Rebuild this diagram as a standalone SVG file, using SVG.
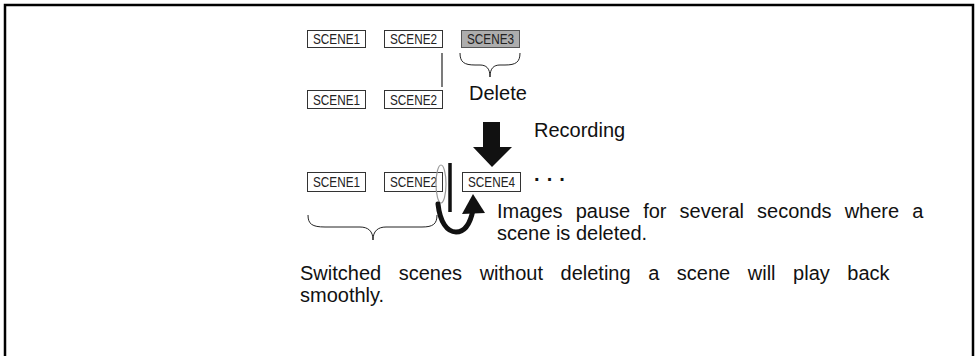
<svg xmlns="http://www.w3.org/2000/svg" width="977" height="356" viewBox="0 0 977 356">
<defs>
<style>
.box{fill:#fff;stroke:#333;stroke-width:1}
.gray{fill:#adadad;stroke:#555;stroke-width:1}
.bt{font-family:"Liberation Sans",Arial,sans-serif;font-size:14px;fill:#222;text-anchor:middle}
.t{font-family:"Liberation Sans",Arial,sans-serif;font-size:20px;fill:#111}
.br{fill:none;stroke:#222;stroke-width:1}
</style>
</defs>
<rect width="977" height="356" fill="#fff"/>
<path d="M5,356 V5 H973 V356" fill="none" stroke="#000" stroke-width="2.5"/>
<g id="r1s1"><rect class="box" x="307.5" y="30.5" width="58" height="17"/><text class="bt" x="336.5" y="44" textLength="47" lengthAdjust="spacingAndGlyphs">SCENE1</text></g>
<g id="r1s2"><rect class="box" x="384.5" y="30.5" width="58" height="17"/><text class="bt" x="413.5" y="44" textLength="47" lengthAdjust="spacingAndGlyphs">SCENE2</text></g>
<g id="r1s3"><rect class="gray" x="461.5" y="30.5" width="58" height="17"/><text class="bt" x="490.5" y="44" textLength="47" lengthAdjust="spacingAndGlyphs">SCENE3</text></g>
<g id="r2s1"><rect class="box" x="307.5" y="90.5" width="58" height="18"/><text class="bt" x="336.5" y="104.5" textLength="47" lengthAdjust="spacingAndGlyphs">SCENE1</text></g>
<g id="r2s2"><rect class="box" x="384.5" y="90.5" width="58" height="18"/><text class="bt" x="413.5" y="104.5" textLength="47" lengthAdjust="spacingAndGlyphs">SCENE2</text></g>
<g id="r3s1"><rect class="box" x="307.5" y="172.5" width="58" height="19"/><text class="bt" x="336.5" y="187" textLength="47" lengthAdjust="spacingAndGlyphs">SCENE1</text></g>
<g id="r3s2"><rect class="box" x="384.5" y="172.5" width="58" height="19"/><text class="bt" x="413.5" y="187" textLength="47" lengthAdjust="spacingAndGlyphs">SCENE2</text></g>
<g id="r3s4"><rect class="box" x="462.5" y="172.5" width="58" height="19"/><text class="bt" x="491.5" y="187" textLength="47" lengthAdjust="spacingAndGlyphs">SCENE4</text></g>
<g id="dots"><text class="t" x="534" y="186" font-weight="bold" letter-spacing="6">···</text></g>
<g id="connectors">
<line x1="442" y1="53" x2="442" y2="87" stroke="#222" stroke-width="1.2"/>
<path class="br" d="M460,53 C460,62 464,65 475,65 L480,65 C486,65 490,68 490,77 C490,68 494,65 500,65 L505,65 C516,65 520,62 520,53"/>
<polygon points="483,122 500,122 500,147 512,147 492,167 473,147 483,147" fill="#111"/>
<line x1="450" y1="163" x2="450" y2="212" stroke="#111" stroke-width="3.5"/>
<ellipse cx="441" cy="184" rx="5" ry="19" fill="none" stroke="#999" stroke-width="1.2"/>
<path d="M438,204 C440,222 447,232 456,232 C464,232 470,225 473,210" fill="none" stroke="#111" stroke-width="5" stroke-linecap="round"/>
<polygon points="462,214 473,194 485,213" fill="#111"/>
<path class="br" d="M308,215 C308,224 312,227 325,227 L360,227 C368,227 373,231 373,240 C373,231 378,227 386,227 L422,227 C433,227 437,224 437,215"/>
</g>
<g id="labels">
<text class="t" x="469" y="100">Delete</text>
<text class="t" x="534" y="137">Recording</text>
<text class="t" x="497" y="218" word-spacing="7.5">Images pause for several seconds where a</text>
<text class="t" x="497" y="240">scene is deleted.</text>
<text class="t" x="300" y="280" word-spacing="12">Switched scenes without deleting a scene will play back</text>
<text class="t" x="300" y="302">smoothly.</text>
</g>
</svg>
